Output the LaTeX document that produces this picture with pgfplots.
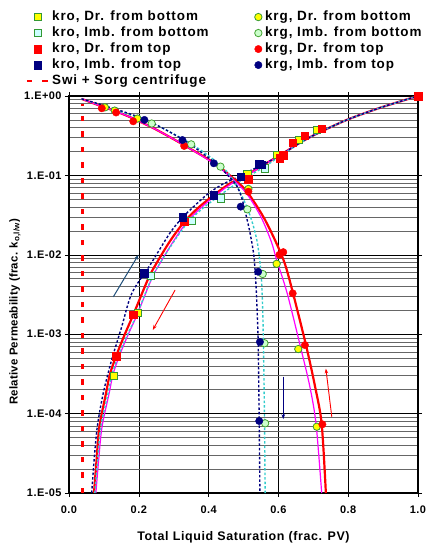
\documentclass[border=0pt]{standalone}
\usepackage{fontspec}
\setmainfont{Liberation Sans}
\usepackage{pgfplots}
\pgfplotsset{compat=1.18}
\usetikzlibrary{arrows.meta}
\definecolor{myyellow}{HTML}{FFFF00}
\definecolor{mygreen}{HTML}{339933}
\definecolor{lcyan}{HTML}{CCFFFF}
\definecolor{lgreen}{HTML}{CCFFCC}
\definecolor{navy}{HTML}{000080}
\definecolor{mymag}{HTML}{FF00FF}
\definecolor{mycyan}{HTML}{33CCCC}
\definecolor{teal2}{HTML}{1F4E79}
\begin{document}
\begin{tikzpicture}
\begin{axis}[
  scale only axis, width=349bp, height=397bp,
  xmin=0, xmax=1, ymin=1e-5, ymax=1, ymode=log,
  xtick={0,0.2,0.4,0.6,0.8,1},
  xticklabels={0.0,0.2,0.4,0.6,0.8,1.0},
  ytick={1e-5,1e-4,1e-3,1e-2,1e-1,1},
  yticklabels={1.E-05,1.E-04,1.E-03,1.E-02,1.E-01,1.E+00},
  grid=both,
  major grid style={black, line width=0.6pt},
  minor grid style={black!60, line width=0.6pt},
  tick align=outside, major tick length=4bp, minor tick length=0pt,
  tick style={black, line width=0.6pt},
  axis line style={black, line width=1.3pt},
  tick label style={font=\bfseries\fontsize{11}{13}\selectfont\addfontfeatures{LetterSpace=4}},
  xticklabel style={yshift=-5bp},
  xlabel={Total Liquid Saturation (frac. PV)},
  ylabel={Relative Permeability (frac. k\textsubscript{o,l/w})},
  xlabel style={font=\bfseries\fontsize{12.5}{14}\selectfont\addfontfeatures{LetterSpace=5},
    at={(axis description cs:0.5,-0.112)}, anchor=center},
  ylabel style={font=\bfseries\fontsize{11.5}{13}\selectfont\addfontfeatures{LetterSpace=2},
    at={(axis description cs:-0.155,0.456)}, anchor=center, rotate=0},
  legend columns=2,
  legend cell align=left,
  legend image code/.code={\draw[mark repeat=2,mark phase=2,#1] plot coordinates {(0bp,0bp) (11bp,0bp) (21bp,0bp)};},
  legend style={at={(axis description cs:-0.134,1.222)}, anchor=north west, draw=none, fill=none,
    font=\bfseries\fontsize{13.5}{15}\selectfont\addfontfeatures{LetterSpace=7},
    nodes={inner sep=1bp, text height=9.5bp, text depth=2.5bp},
    row sep=2bp,
    /tikz/every odd column/.append style={column sep=2bp},
    /tikz/every even column/.append style={column sep=45bp}},
]
% ---- fitted curves (rising)
\addplot[red, line width=2.2pt, smooth, forget plot] coordinates {
(0.0716,1e-5) (0.079,2.6e-5) (0.087,6.8e-5) (0.106,1.8e-4) (0.117,3.1e-4) (0.135,5.3e-4)
(0.160,1.0e-3) (0.184,1.75e-3) (0.227,5.0e-3) (0.252,8.0e-3) (0.290,1.5e-2) (0.330,2.6e-2)
(0.370,3.9e-2) (0.414,5.6e-2) (0.461,7.9e-2) (0.514,0.104) (0.560,0.138) (0.605,0.180)
(0.662,0.258) (0.710,0.335) (0.796,0.50) (0.891,0.71) (1.0,1.0)};
\addplot[mymag, line width=1.2pt, smooth, forget plot] coordinates {
(0.077,1e-5) (0.085,2.6e-5) (0.0946,6.8e-5) (0.115,1.8e-4) (0.126,3.1e-4) (0.144,5.3e-4)
(0.170,1.0e-3) (0.195,1.75e-3) (0.237,5.0e-3) (0.262,8.0e-3) (0.300,1.5e-2) (0.338,2.6e-2)
(0.378,3.9e-2) (0.420,5.6e-2) (0.466,7.9e-2) (0.516,0.104) (0.560,0.138) (0.605,0.180)
(0.662,0.258) (0.710,0.335) (0.796,0.50) (0.891,0.71) (1.0,1.0)};
\addplot[mycyan, line width=1.4pt, dash pattern=on 2.5bp off 2bp, smooth, forget plot] coordinates {
(0.074,1e-5) (0.082,2.6e-5) (0.091,6.8e-5) (0.112,1.8e-4) (0.123,3.1e-4) (0.141,5.3e-4)
(0.168,1.0e-3) (0.194,1.75e-3) (0.236,5.0e-3) (0.262,8.0e-3) (0.302,1.5e-2) (0.342,2.6e-2)
(0.385,3.9e-2) (0.432,5.6e-2) (0.480,7.9e-2) (0.525,0.104) (0.562,0.130) (0.605,0.175)
(0.662,0.255) (0.710,0.335) (0.796,0.50) (0.891,0.71) (1.0,1.0)};
\addplot[navy, line width=1.4pt, dash pattern=on 2.5bp off 2bp, smooth, forget plot] coordinates {
(0.065,1e-5) (0.072,2.6e-5) (0.081,6.8e-5) (0.098,1.8e-4) (0.122,4.7e-4) (0.151,1.24e-3)
(0.180,3.27e-3) (0.232,7.4e-3) (0.290,1.9e-2) (0.330,3.1e-2) (0.394,5.66e-2) (0.437,7.6e-2)
(0.476,9.2e-2) (0.520,0.115) (0.560,0.140) (0.605,0.180) (0.662,0.258) (0.710,0.335)
(0.796,0.50) (0.891,0.71) (1.0,1.0)};
% ---- fitted curves (falling)
\addplot[red, line width=2.2pt, smooth, forget plot] coordinates {
(0.036,0.92) (0.094,0.74) (0.135,0.64) (0.184,0.52) (0.251,0.375) (0.330,0.240)
(0.414,0.145) (0.461,0.100) (0.509,0.063) (0.557,0.030) (0.595,0.0138) (0.619,7.6e-3)
(0.641,3.4e-3) (0.679,7.3e-4) (0.705,2.2e-4) (0.724,7.4e-5) (0.736,1e-5)};
\addplot[mymag, line width=1.2pt, smooth, forget plot] coordinates {
(0.036,0.92) (0.094,0.74) (0.135,0.64) (0.184,0.52) (0.251,0.375) (0.330,0.240)
(0.414,0.142) (0.461,0.097) (0.509,0.059) (0.550,0.030) (0.580,0.0145) (0.595,8.6e-3)
(0.625,3.3e-3) (0.662,7.3e-4) (0.690,2.2e-4) (0.708,7.3e-5) (0.724,1e-5)};
\addplot[mycyan, line width=1.4pt, dash pattern=on 2.5bp off 2bp, smooth, forget plot] coordinates {
(0.036,0.92) (0.10,0.75) (0.15,0.63) (0.237,0.46) (0.35,0.25) (0.434,0.135) (0.47,0.088)
(0.500,0.050) (0.523,0.0275) (0.538,0.0155) (0.546,9e-3) (0.552,4.5e-3) (0.555,2e-3)
(0.557,8e-4) (0.560,1e-4) (0.562,1e-5)};
\addplot[navy, line width=1.4pt, dash pattern=on 2.5bp off 2bp, smooth, forget plot] coordinates {
(0.036,0.92) (0.10,0.76) (0.216,0.51) (0.325,0.285) (0.415,0.148) (0.455,0.10) (0.480,0.075)
(0.495,0.052) (0.507,0.032) (0.519,0.0186) (0.530,9.5e-3) (0.536,4e-3) (0.539,2e-3)
(0.542,8e-4) (0.545,8e-5) (0.547,1e-5)};
% ---- measured points
\addplot[only marks, mark=square*, mark size=3.7bp, mark options={fill=myyellow, draw=mygreen, line width=0.8pt}] coordinates {
(0.129,3.0e-4) (0.197,1.87e-3) (0.511,0.103) (0.595,0.18) (0.659,0.279) (0.711,0.373)};
\addlegendentry{kro, Dr. from bottom}
\addplot[only marks, mark=*, mark size=3.7bp, mark options={fill=myyellow, draw=mygreen, line width=0.8pt}] coordinates {
(0.103,0.72) (0.131,0.655) (0.196,0.52) (0.514,0.0675) (0.595,0.0077) (0.657,6.5e-4) (0.710,6.84e-5)};
\addlegendentry{krg, Dr. from bottom}
\addplot[only marks, mark=square*, mark size=3.7bp, mark options={fill=lcyan, draw=mygreen, line width=0.8pt}] coordinates {
(0.235,5.46e-3) (0.351,0.0269) (0.435,0.0514) (0.562,0.123)};
\addlegendentry{kro, Imb. from bottom}
\addplot[only marks, mark=*, mark size=3.7bp, mark options={fill=lgreen, draw=mygreen!90!lime, line width=0.8pt}] coordinates {
(0.237,0.45) (0.350,0.246) (0.434,0.129) (0.511,0.0374) (0.555,0.00573) (0.560,7.7e-4) (0.562,7.55e-5)};
\addlegendentry{krg, Imb. from bottom}
\addplot[only marks, mark=square*, mark size=3.7bp, mark options={fill=red, draw=red}] coordinates {
(0.135,5.3e-4) (0.184,1.75e-3) (0.330,0.0261) (0.514,0.090) (0.603,0.164) (0.614,0.18)
(0.641,0.258) (0.676,0.316) (0.724,0.39) (1.0,1.0)};
\addlegendentry{kro, Dr. from top}
\addplot[only marks, mark=*, mark size=3.7bp, mark options={fill=red, draw=red}] coordinates {
(0.094,0.70) (0.135,0.62) (0.184,0.48) (0.330,0.235) (0.514,0.0624) (0.603,0.010) (0.614,0.0108)
(0.641,0.00327) (0.676,7.3e-4) (0.726,7.33e-5)};
\addlegendentry{krg, Dr. from top}
\addplot[only marks, mark=square*, mark size=3.7bp, mark options={fill=navy, draw=navy}] coordinates {
(0.216,5.85e-3) (0.326,0.0297) (0.415,0.0566) (0.492,0.097) (0.545,0.138) (0.553,0.137)};
\addlegendentry{kro, Imb. from top}
\addplot[only marks, mark=*, mark size=3.7bp, mark options={fill=navy, draw=navy}] coordinates {
(0.216,0.50) (0.325,0.279) (0.415,0.142) (0.492,0.0404) (0.542,0.00612) (0.547,8.0e-4) (0.545,8.07e-5)};
\addlegendentry{krg, Imb. from top}
\addplot[red, line width=2.7bp, dash pattern=on 5.5bp off 10bp, mark=none] coordinates {
(0.039,1e-5) (0.039,0.8)};
\addlegendentry{Swi + Sorg centrifuge}
% ---- arrows
\draw[teal2, line width=1pt, -{Stealth[length=5bp,width=3.5bp]}] (axis cs:0.127,2.96e-3) -- (axis cs:0.199,1.0e-2);
\draw[red, line width=0.9pt, -{Stealth[length=5bp,width=3.5bp]}] (axis cs:0.304,3.6e-3) -- (axis cs:0.240,1.13e-3);
\draw[navy, line width=0.9pt, -{Stealth[length=5bp,width=3.5bp]}] (axis cs:0.614,2.92e-4) -- (axis cs:0.614,8.5e-5);
\draw[red, line width=0.9pt, -{Stealth[length=5bp,width=3.5bp]}] (axis cs:0.753,9.1e-5) -- (axis cs:0.736,3.7e-4);
\end{axis}
\pgfresetboundingbox
\path (-69bp,-53bp) rectangle (358bp,493bp);
\end{tikzpicture}
\end{document}
